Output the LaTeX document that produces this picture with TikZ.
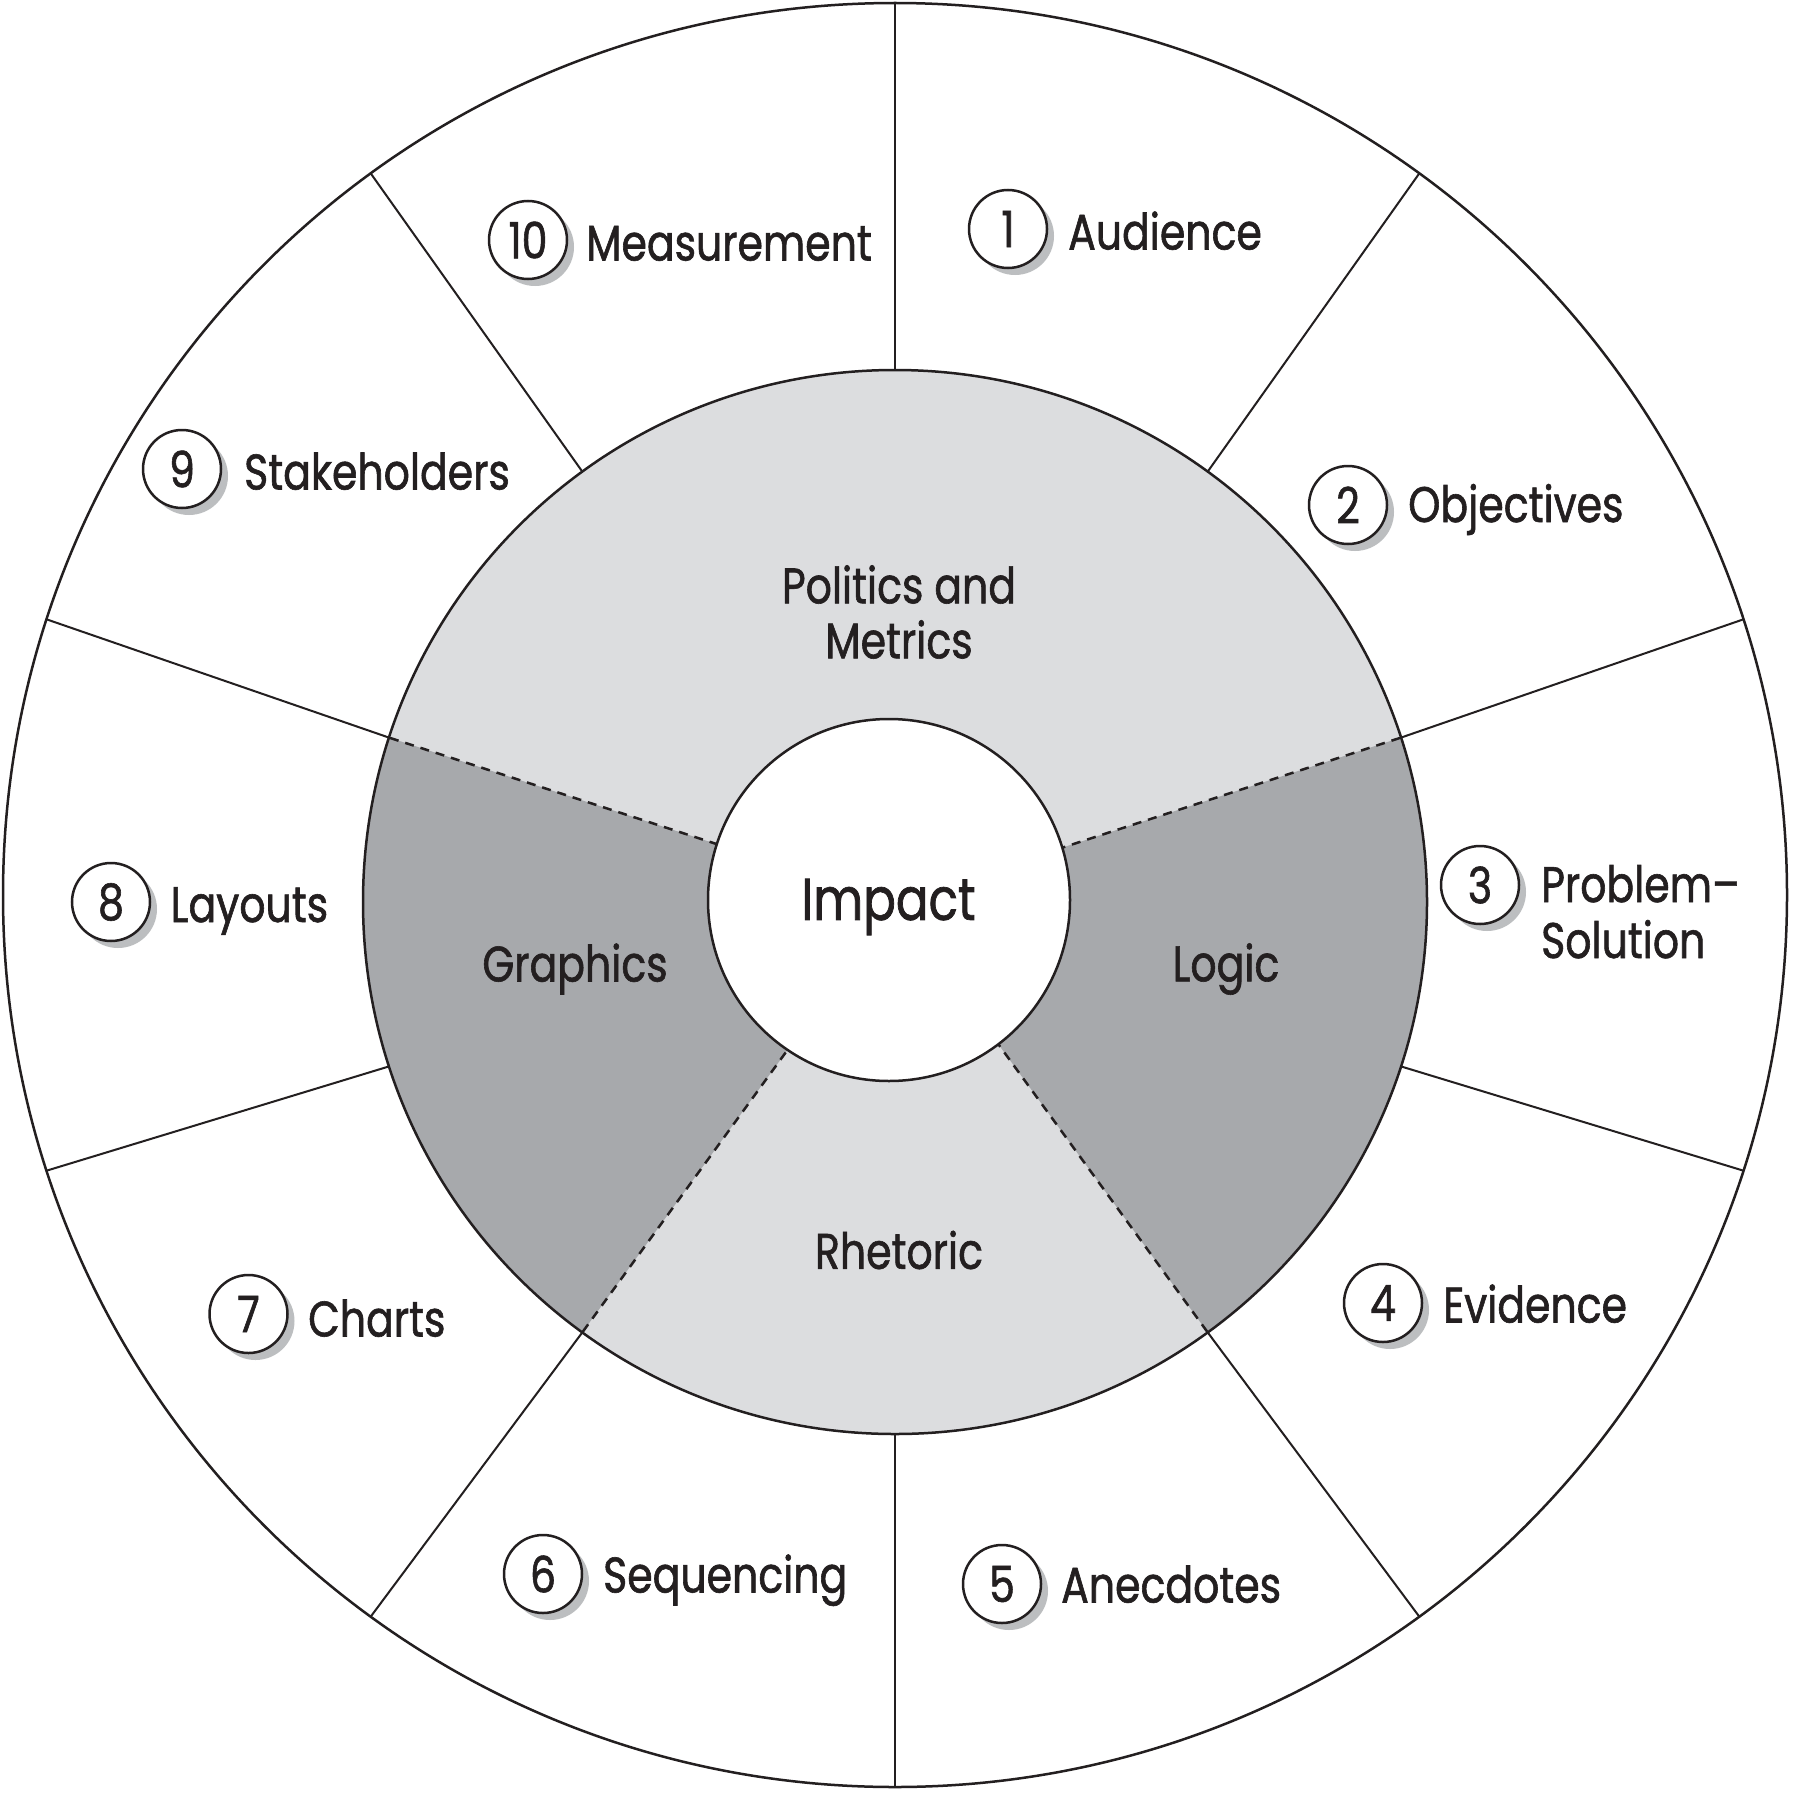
\documentclass[tikz,border=0pt]{standalone}
\usepackage{fontspec}
\setmainfont{Poppins}[FakeStretch=0.82, FakeBold=1.2]
\usetikzlibrary{shadows,calc}
\definecolor{ink}{HTML}{231F20}
\definecolor{lightg}{HTML}{DCDDDF}
\definecolor{darkg}{HTML}{A7A9AC}
\definecolor{shadowg}{HTML}{BCBEC0}
\begin{document}
\begin{tikzpicture}[x=1pt,y=-1pt,
  every node/.style={text=ink},
  lbl/.style={anchor=base west, inner sep=0pt, font=\fontsize{50}{56}\selectfont},
  sect/.style={align=center, inner sep=0pt, font=\fontsize{50}{55}\selectfont},
  badge/.style={circle, draw=ink, line width=2.5pt, fill=white, minimum size=78pt,
    inner sep=0pt, font=\fontsize{50}{56}\selectfont,
    drop shadow={shadow xshift=7pt, shadow yshift=-7pt, fill=shadowg, opacity=1, draw=none}},
  ring/.style={draw=ink, line width=2.5pt},
  spoke/.style={draw=ink, line width=2pt},
  divider/.style={draw=ink, line width=2.5pt, dash pattern=on 9pt off 7pt}
  ]
\useasboundingbox (0,0) rectangle (1793,1795);
\fill[white] (0,0) rectangle (1793,1795);
\coordinate (O) at (895,895);
\coordinate (M) at (895,902);
% outer circle
\draw[ring] (O) circle[radius=892pt];
% middle ring
\fill[lightg] (M) circle[radius=532pt];
\fill[darkg] (M) -- ++(-54:532pt) arc[start angle=-54, end angle=18, radius=532pt] -- cycle;
\fill[darkg] (M) -- ++(162:532pt) arc[start angle=162, end angle=234, radius=532pt] -- cycle;
\foreach \a in {18,162,-54,-126}{
  \draw[divider] ($(M)+(\a:170pt)$) -- ($(M)+(\a:532pt)$);
}
\draw[ring] (M) circle[radius=532pt];
\foreach \a in {90,54,18,-18,-54,-90,-126,-162,162,126}{
  \draw[spoke] ($(M)+(\a:532pt)$) -- ($(O)+(\a:892pt)$);
}
% centre
\node[circle, ring, fill=white, minimum size=362pt, inner sep=0pt] (impact) at (889,900) {};
\node[inner sep=0pt, font=\fontsize{59}{66}\selectfont] (impt) at (888.5,907) {Impact};
% sector labels
\node[sect] (pm) at (899,612) {Politics and\\Metrics};
\node[sect] (logic) at (1226,969) {Logic};
\node[sect] (rhet) at (899,1250) {Rhetoric};
\node[sect] (graph) at (575,969) {Graphics};
% badges
\node[badge] (b1) at (1008,229) {1};
\node[badge] (b2) at (1348,505) {2};
\node[badge] (b3) at (1480,885) {3};
\node[badge] (b4) at (1383,1303) {4};
\node[badge] (b5) at (1002,1584) {5};
\node[badge] (b6) at (543,1574) {6};
\node[badge] (b7) at (248.5,1314) {7};
\node[badge] (b8) at (111,902) {8};
\node[badge] (b9) at (182,469) {9};
\node[badge] (b10) at (528,240) {10};
% labels
\node[lbl] (t1) at (1068,249.5) {Audience};
\node[lbl] (t2) at (1408,522) {Objectives};
\node[lbl] (t3a) at (1541,902) {Problem–};
\node[lbl] (t3b) at (1541,958) {Solution};
\node[lbl] (t4) at (1443,1322.5) {Evidence};
\node[lbl] (t5) at (1061,1602.5) {Anecdotes};
\node[lbl] (t6) at (603,1592.5) {Sequencing};
\node[lbl] (t7) at (308,1336.5) {Charts};
\node[lbl] (t8) at (170.6,922) {Layouts};
\node[lbl] (t9) at (244,489.5) {Stakeholders};
\node[lbl] (t10) at (586,260.5) {Measurement};
\end{tikzpicture}
\end{document}
